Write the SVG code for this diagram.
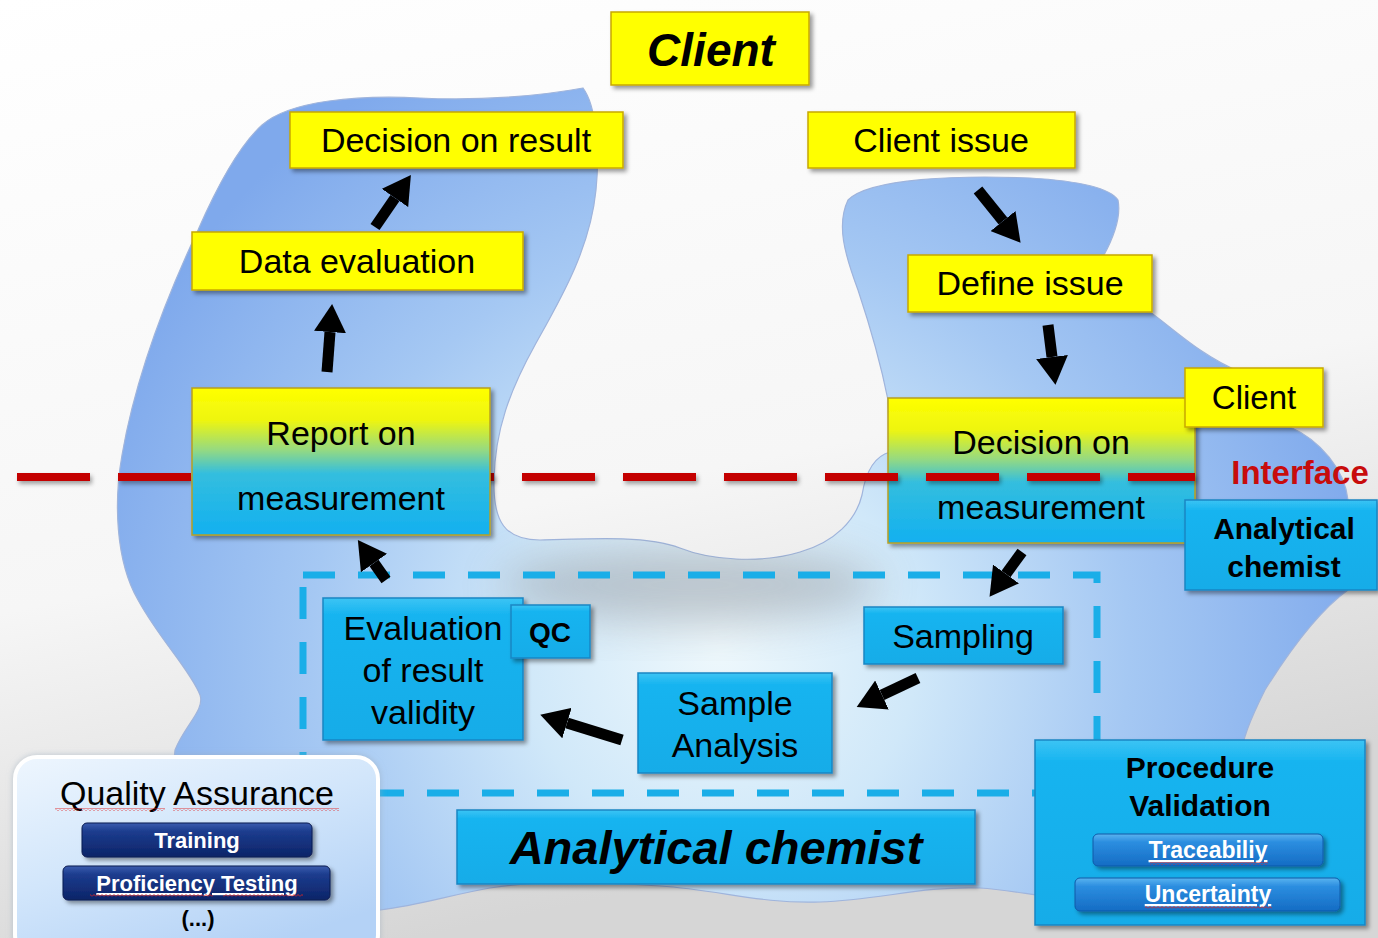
<svg xmlns="http://www.w3.org/2000/svg" width="1378" height="938" viewBox="0 0 1378 938">
<style>
text{font-family:"Liberation Sans",Arial,sans-serif;fill:#000;text-anchor:middle}
.y{fill:#ffff00;stroke:#c8a800;stroke-width:1.5;filter:url(#sh)}
.c{fill:url(#cyan);stroke:#1a86c4;stroke-width:1.5;filter:url(#sh)}
.t34{font-size:34px}
.b30{font-size:30px;font-weight:bold}
.wb{font-size:22px;font-weight:bold;fill:#fff}
.arr{stroke:#000;stroke-width:11;fill:none;marker-end:url(#ah)}
.sq{fill:url(#squig)}
</style>
<defs>
<linearGradient id="bg" x1="0" y1="0" x2="0.3" y2="1">
<stop offset="0" stop-color="#ffffff"/><stop offset="0.6" stop-color="#f6f6f6"/><stop offset="1" stop-color="#d6d6d6"/>
</linearGradient>
<radialGradient id="blobg" gradientUnits="userSpaceOnUse" cx="720" cy="650" r="660">
<stop offset="0" stop-color="#eef8fc"/><stop offset="0.3" stop-color="#d0e8f9"/><stop offset="0.62" stop-color="#a5c8f3"/><stop offset="1" stop-color="#7fa9ec"/>
</radialGradient>
<linearGradient id="cyan" x1="0" y1="0" x2="0" y2="1">
<stop offset="0" stop-color="#3cc4f4"/><stop offset="0.12" stop-color="#16b4f0"/><stop offset="1" stop-color="#12ace8"/>
</linearGradient>
<linearGradient id="yc" x1="0" y1="0" x2="0" y2="1">
<stop offset="0" stop-color="#ffff00"/><stop offset="0.22" stop-color="#eef510"/><stop offset="0.42" stop-color="#96da80"/><stop offset="0.58" stop-color="#34bede"/><stop offset="1" stop-color="#12b0f0"/>
</linearGradient>
<linearGradient id="qa" x1="0" y1="0" x2="0.6" y2="1">
<stop offset="0" stop-color="#eef6fe"/><stop offset="0.5" stop-color="#d2e6fb"/><stop offset="1" stop-color="#b4d2f6"/>
</linearGradient>
<linearGradient id="navy" x1="0" y1="0" x2="0" y2="1">
<stop offset="0" stop-color="#3a5cae"/><stop offset="0.25" stop-color="#1c3c8e"/><stop offset="1" stop-color="#0c2468"/>
</linearGradient>
<linearGradient id="mid" x1="0" y1="0" x2="0" y2="1">
<stop offset="0" stop-color="#5ab4f0"/><stop offset="0.25" stop-color="#2c8ee0"/><stop offset="1" stop-color="#146cc4"/>
</linearGradient>
<filter id="sh" x="-10%" y="-20%" width="125%" height="150%">
<feDropShadow dx="3" dy="3" stdDeviation="2" flood-color="#000" flood-opacity="0.4"/>
</filter>
<filter id="lsh" filterUnits="userSpaceOnUse" x="0" y="460" width="1378" height="40">
<feDropShadow dx="2" dy="3" stdDeviation="2" flood-color="#000" flood-opacity="0.35"/>
</filter>
<filter id="blur" x="-50%" y="-50%" width="200%" height="200%"><feGaussianBlur stdDeviation="22"/></filter>
<filter id="glow" x="-10%" y="-10%" width="120%" height="120%"><feDropShadow dx="0" dy="0" stdDeviation="3" flood-color="#9ab" flood-opacity="0.6"/></filter>
<marker id="ah" markerUnits="userSpaceOnUse" markerWidth="30" markerHeight="32" refX="0" refY="16" orient="auto">
<path d="M0,0 L28,16 L0,32 Z" fill="#000"/>
</marker>
<pattern id="squig" width="4" height="3" patternUnits="userSpaceOnUse">
<polyline points="0,2.5 2,0.5 4,2.5" fill="none" stroke="#e02020" stroke-width="0.9"/>
</pattern>
<path id="blobp" d="M262,125 C290,100 360,95 420,98 C480,101 540,96 583,88 C596,105 600,150 596,190 C590,250 560,300 535,345 C510,390 495,430 494,480 C493,522 505,540 540,540 C600,538 650,536 680,548 C710,560 760,564 800,552 C835,542 856,520 862,495 C866,470 875,456 890,452 L888,400 C880,360 868,320 858,290 C845,255 836,225 848,200 C870,178 960,175 1030,178 C1080,181 1110,188 1118,200 C1122,220 1110,245 1100,262 L1150,312 C1175,330 1200,355 1240,372 L1290,427 C1320,440 1345,470 1348,500 L1348,590 C1320,610 1290,650 1265,690 C1250,720 1242,740 1240,760 L1100,898 C1060,903 1020,890 980,888 C920,886 880,900 820,902 C760,904 720,890 660,886 C600,882 540,880 490,888 C450,895 420,905 380,910 L200,910 C180,850 170,790 175,750 C185,725 205,710 200,695 C190,670 160,640 138,600 C115,560 114,500 122,455 C135,380 165,300 198,230 C220,180 240,145 262,125 Z"/>
<clipPath id="blobclip"><use href="#blobp"/></clipPath>
</defs>

<rect width="1378" height="938" fill="url(#bg)"/>
<g id="blob">
<use href="#blobp" fill="url(#blobg)" stroke="#9fb4dc" stroke-width="1.2"/>
<g clip-path="url(#blobclip)">
<ellipse cx="690" cy="585" rx="190" ry="38" fill="#8a8f96" opacity="0.45" filter="url(#blur)"/>
</g>
</g>

<g id="node-decision-measurement">
<rect x="888" y="398" width="307" height="145" fill="url(#yc)" stroke="#b8a020" stroke-width="1.5" filter="url(#sh)"/>
<text class="t34" x="1041" y="454">Decision on</text>
<text class="t34" x="1041" y="519">measurement</text>
</g>

<g id="interface-line">
<line x1="17" y1="477" x2="1195" y2="477" stroke="#c40000" stroke-width="8" stroke-dasharray="73 28" filter="url(#lsh)"/>
</g>

<g id="scope-box">
<rect x="303" y="575" width="794" height="218" fill="none" stroke="#1aaee8" stroke-width="7" stroke-dasharray="32 23"/>
</g>

<g id="node-client-top">
<rect class="y" x="611" y="12" width="198" height="73"/>
<text x="711" y="66" style="font-size:46px;font-weight:bold;font-style:italic">Client</text>
</g>
<g id="node-decision-result">
<rect class="y" x="290" y="112" width="333" height="56"/>
<text class="t34" x="456" y="152">Decision on result</text>
</g>
<g id="node-client-issue">
<rect class="y" x="808" y="112" width="267" height="56"/>
<text class="t34" x="941" y="152">Client issue</text>
</g>
<g id="node-data-evaluation">
<rect class="y" x="192" y="232" width="331" height="58"/>
<text class="t34" x="357" y="273">Data evaluation</text>
</g>
<g id="node-define-issue">
<rect class="y" x="908" y="255" width="244" height="57"/>
<text class="t34" x="1030" y="295">Define issue</text>
</g>
<g id="node-report">
<rect x="192" y="388" width="298" height="147" fill="url(#yc)" stroke="#b8a020" stroke-width="1.5" filter="url(#sh)"/>
<text class="t34" x="341" y="445">Report on</text>
<text class="t34" x="341" y="510">measurement</text>
</g>
<g id="node-client-small">
<rect class="y" x="1185" y="368" width="138" height="59"/>
<text x="1254" y="409" style="font-size:33px">Client</text>
</g>
<g id="label-interface">
<text x="1300" y="484" style="font-size:33px;font-weight:bold;fill:#c80c0c">Interface</text>
</g>
<g id="node-analytical-small">
<rect class="c" x="1185" y="500" width="192" height="90"/>
<text class="b30" x="1284" y="539">Analytical</text>
<text class="b30" x="1284" y="577">chemist</text>
</g>
<g id="node-evaluation">
<rect class="c" x="323" y="598" width="200" height="142"/>
<text class="t34" x="423" y="640">Evaluation</text>
<text class="t34" x="423" y="682">of result</text>
<text class="t34" x="423" y="724">validity</text>
</g>
<g id="node-qc">
<rect class="c" x="511" y="605" width="79" height="53"/>
<text x="550" y="642" style="font-size:28px;font-weight:bold">QC</text>
</g>
<g id="node-sampling">
<rect class="c" x="864" y="607" width="199" height="57"/>
<text class="t34" x="963" y="648">Sampling</text>
</g>
<g id="node-sample-analysis">
<rect class="c" x="638" y="673" width="194" height="100"/>
<text class="t34" x="735" y="715">Sample</text>
<text class="t34" x="735" y="757">Analysis</text>
</g>
<g id="node-analytical-big">
<rect class="c" x="457" y="810" width="518" height="74"/>
<text x="716" y="864" style="font-size:47px;font-weight:bold;font-style:italic">Analytical chemist</text>
</g>
<g id="node-procedure">
<rect class="c" x="1035" y="740" width="330" height="185"/>
<text class="b30" x="1200" y="778">Procedure</text>
<text class="b30" x="1200" y="816">Validation</text>
<rect x="1093" y="834" width="230" height="32" rx="5" fill="url(#mid)" stroke="#0e5aa8" stroke-width="1" filter="url(#sh)"/>
<text x="1208" y="858" class="wb" style="font-size:23px;text-decoration:underline">Traceabiliy</text>
<rect class="sq" x="1150" y="862" width="118" height="3"/>
<rect x="1075" y="878" width="265" height="33" rx="5" fill="url(#mid)" stroke="#0e5aa8" stroke-width="1" filter="url(#sh)"/>
<text x="1208" y="902" class="wb" style="font-size:23px;text-decoration:underline">Uncertainty</text>
<rect class="sq" x="1145" y="906" width="127" height="3"/>
</g>
<g id="node-quality-assurance">
<rect x="15" y="757" width="363" height="200" rx="22" fill="url(#qa)" stroke="#ffffff" stroke-width="4" filter="url(#glow)"/>
<text class="t34" x="197" y="805">Quality Assurance</text>
<rect class="sq" x="55" y="808" width="110" height="3"/>
<rect class="sq" x="173" y="808" width="166" height="3"/>
<rect x="82" y="823" width="230" height="34" rx="5" fill="url(#navy)" stroke="#0a1c50" stroke-width="1" filter="url(#sh)"/>
<text class="wb" x="197" y="848">Training</text>
<rect x="63" y="866" width="267" height="34" rx="5" fill="url(#navy)" stroke="#0a1c50" stroke-width="1" filter="url(#sh)"/>
<text class="wb" x="197" y="891" style="text-decoration:underline">Proficiency Testing</text>
<rect class="sq" x="90" y="894" width="123" height="3"/>
<rect class="sq" x="223" y="894" width="80" height="3"/>
<text x="198" y="926" style="font-size:22px;font-weight:bold">(...)</text>
</g>

<g id="connectors">
<line class="arr" x1="375" y1="227" x2="395" y2="198"/>
<line class="arr" x1="327" y1="372" x2="330" y2="332"/>
<line class="arr" x1="978" y1="190" x2="1003" y2="221"/>
<line class="arr" x1="1048" y1="325" x2="1052" y2="357"/>
<line class="arr" x1="1022" y1="552" x2="1006" y2="574"/>
<line class="arr" x1="918" y1="678" x2="882" y2="695"/>
<line class="arr" x1="622" y1="740" x2="567" y2="723"/>
<line class="arr" x1="386" y1="580" x2="374" y2="563"/>
</g>
</svg>
